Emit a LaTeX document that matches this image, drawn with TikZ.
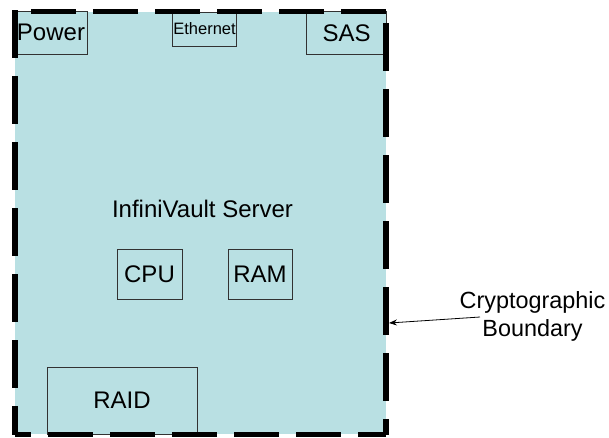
\documentclass[tikz,border=0pt]{standalone}
\usepackage{fontspec}
\setmainfont{Liberation Sans}
\usetikzlibrary{arrows.meta}
\definecolor{panel}{RGB}{185,224,227}
\definecolor{boxline}{RGB}{50,50,50}
\tikzset{
  part/.style={draw=boxline, line width=0.9pt, fill=panel, inner sep=0pt,
    font=\fontsize{24}{28}\selectfont},
  bound/.style={line width=5.5pt, black},
  lbl/.style={inner sep=0pt, font=\fontsize{24}{28}\selectfont}
}
\begin{document}
\begin{tikzpicture}[x=1pt,y=-1pt]
\useasboundingbox (0,0) rectangle (609,437);
% server panel
\fill[panel] (15,12) rectangle (386,434);
% components
\node[part, minimum width=72pt, minimum height=43pt] (power) at (51,32.5) {Power};
\node[part, minimum width=63.6pt, minimum height=34pt, font=\fontsize{16.5}{19}\selectfont] (eth) at (204.5,29) {Ethernet};
\node[part, minimum width=80pt, minimum height=43pt] (sas) at (346.7,33) {SAS};
\node[lbl] (srv) at (202.5,208.5) {InfiniVault Server};
\node[part, minimum width=65pt, minimum height=50pt] (cpu) at (149.5,274) {CPU};
\node[part, minimum width=64pt, minimum height=50pt] (ram) at (260,274) {RAM};
\node[part, minimum width=150pt, minimum height=67pt] (raid) at (122,400.5) {RAID};
% cryptographic boundary (dashed)
\coordinate (tl) at (15,10);
\coordinate (bl) at (15,434.5);
\coordinate (br) at (386,434.5);
\coordinate (rt) at (386,23);
\coordinate (tr) at (386,11.5);
\coordinate (tlh) at (15,11.5);
\draw[bound, dash pattern=on 48pt off 18pt] (tl) -- (bl);
\draw[bound, dash pattern=on 45pt off 17pt, dash phase=29pt] (bl) -- (br);
\draw[bound, dash pattern=on 48pt off 18pt] (rt) -- (br);
\draw[bound, dash pattern=on 45pt off 17pt] (tr) -- (tlh);
% label and arrow
\node[lbl, align=center, font=\fontsize{23.4}{28}\selectfont] (cb) at (532.5,316) {Cryptographic\\Boundary};
\coordinate (tail) at (480,317);
\coordinate (tip) at (389,323);
\draw[line width=0.8pt, -{Stealth[length=8pt,width=6pt]}] (tail) -- (tip);
\end{tikzpicture}
\end{document}
